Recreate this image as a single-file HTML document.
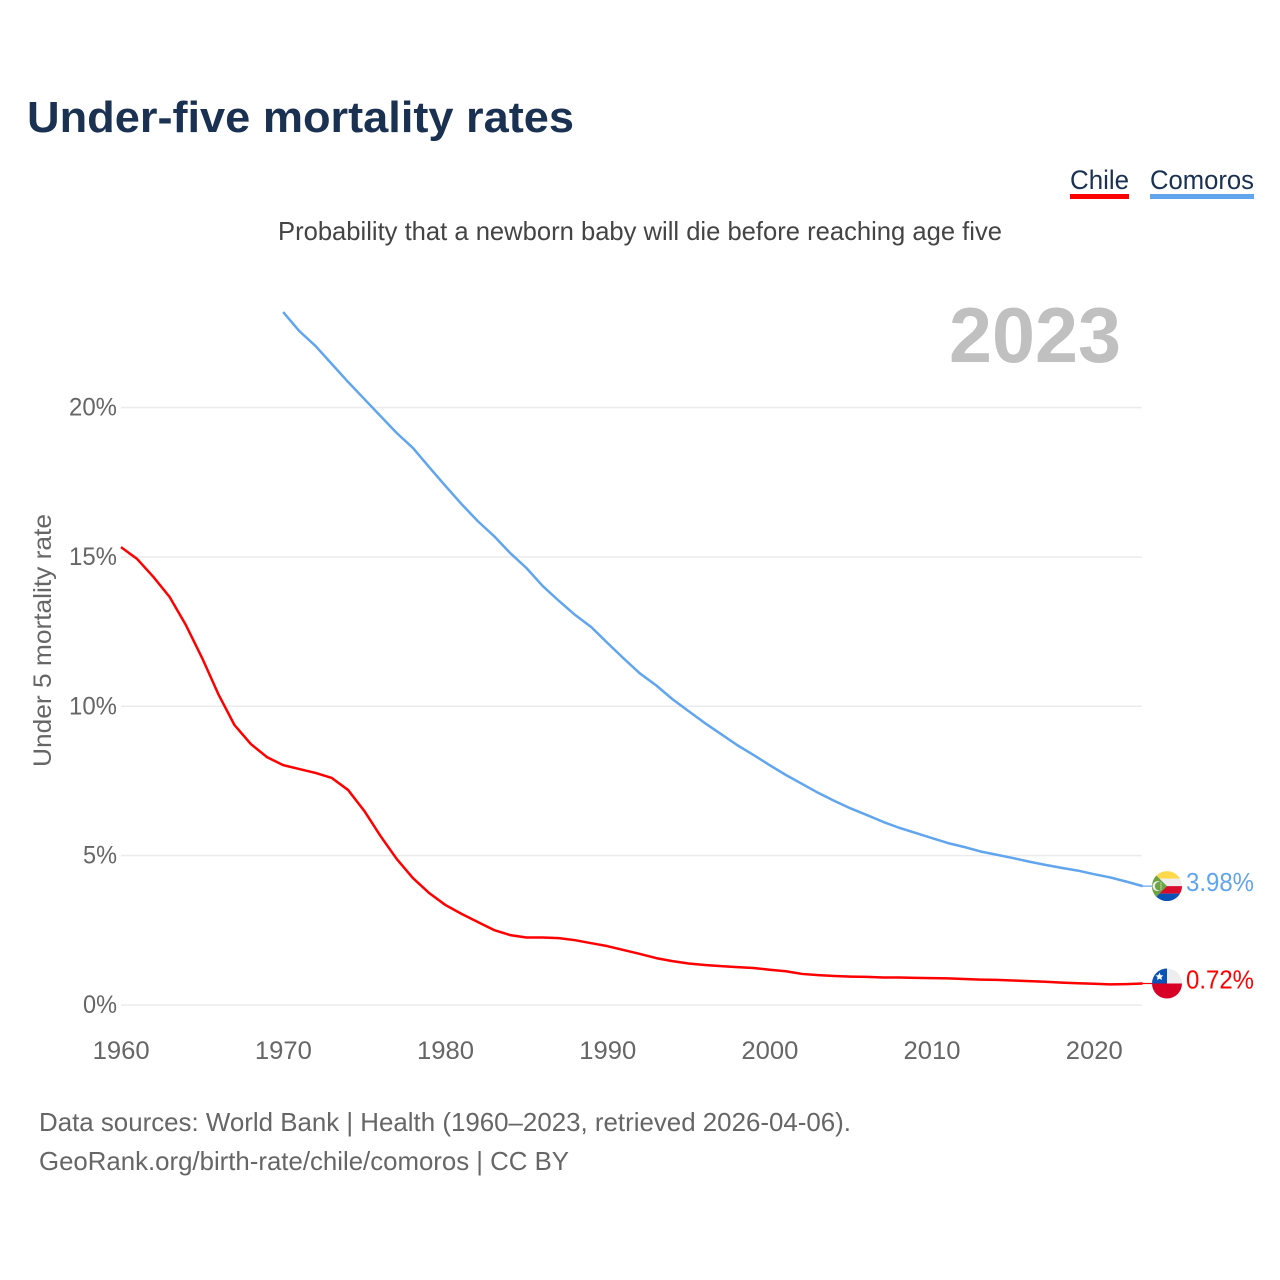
<!DOCTYPE html>
<html lang="en">
<head>
<meta charset="utf-8">
<title>Under-five mortality rates</title>
<style>
html,body{margin:0;padding:0;background:#fff;width:1280px;height:1280px;overflow:hidden}
svg{display:block}
text{font-family:"Liberation Sans",Arial,sans-serif}
</style>
</head>
<body>
<svg id="chart" xmlns="http://www.w3.org/2000/svg" width="1280" height="1280" viewBox="0 0 1280 1280">
  <rect x="0" y="0" width="1280" height="1280" fill="#fff"/>
  <text x="27" y="132" font-size="44" font-weight="700" fill="#1a3152" textLength="547" lengthAdjust="spacingAndGlyphs">Under-five mortality rates</text>
  <g>
    <g>
      <text x="1070" y="189" font-size="27" fill="#1a3152" textLength="59" lengthAdjust="spacingAndGlyphs">Chile</text>
      <rect x="1070" y="194" width="59" height="5" fill="#ff0000"/>
    </g>
    <g>
      <text x="1150" y="189" font-size="27" fill="#1a3152" textLength="104" lengthAdjust="spacingAndGlyphs">Comoros</text>
      <rect x="1150" y="194" width="104" height="5" fill="#60a5ee"/>
    </g>
  </g>
  <text x="278" y="240" font-size="26" fill="#444" textLength="724" lengthAdjust="spacingAndGlyphs">Probability that a newborn baby will die before reaching age five</text>
  <text x="949" y="362" font-size="78" font-weight="700" fill="#c0c0c0" textLength="172" lengthAdjust="spacingAndGlyphs">2023</text>
  <text transform="translate(51,767) rotate(-90)" x="0" y="0" font-size="25" fill="#666" textLength="253" lengthAdjust="spacingAndGlyphs">Under 5 mortality rate</text>
  <g id="grid"></g>
  <g id="yticks"></g>
  <g id="xticks"></g>
  <g id="series"></g>
  <defs>
    <clipPath id="flag-clip"><circle cx="0" cy="0" r="15"/></clipPath>
  </defs>
  <g id="flag-comoros" clip-path="url(#flag-clip)">
    <rect x="-15" y="-15" width="30" height="7.5" fill="#ffd94a"/>
    <rect x="-15" y="-7.5" width="30" height="7.5" fill="#eeeeee"/>
    <rect x="-15" y="0" width="30" height="7.5" fill="#d80d2e"/>
    <rect x="-15" y="7.5" width="30" height="7.5" fill="#0a52b5"/>
    <path d="M-15,-15 L0,0 L-15,15 Z" fill="#6da544"/>
    <circle cx="-9.5" cy="0" r="5" fill="#eee"/>
    <circle cx="-7.7" cy="0" r="4.4" fill="#6da544"/>
    <path d="M-6,-3.5 V3.5" stroke="#eee" stroke-width="1.2" stroke-dasharray="1 1"/>
  </g>
  <g id="flag-chile" clip-path="url(#flag-clip)">
    <rect x="-15" y="-15" width="30" height="15" fill="#eeeeee"/>
    <rect x="-15" y="-15" width="15" height="15" fill="#0a52b5"/>
    <rect x="-15" y="0" width="30" height="15" fill="#d80027"/>
    <path d="M-7.5,-11 L-6.3,-8.3 L-3.6,-8.1 L-5.6,-6.2 L-5,-3.5 L-7.5,-4.9 L-10,-3.5 L-9.4,-6.2 L-11.4,-8.1 L-8.7,-8.3 Z" fill="#fff"/>
  </g>
  <text x="39" y="1131" font-size="26" fill="#666" textLength="812" lengthAdjust="spacingAndGlyphs">Data sources: World Bank | Health (1960–2023, retrieved 2026-04-06).</text>
  <text x="39" y="1170" font-size="26" fill="#666" textLength="530" lengthAdjust="spacingAndGlyphs">GeoRank.org/birth-rate/chile/comoros | CC BY</text>
</svg>
<script>
const xTicks = [1960, 1970, 1980, 1990, 2000, 2010, 2020];
const yTicks = [0, 5, 10, 15, 20];
const yTickLabels = ['0%', '5%', '10%', '15%', '20%'];
const chileStartYear = 1960;
const chileValues = [15.33,14.93,14.33,13.66,12.72,11.62,10.41,9.37,8.74,8.30,8.03,7.90,7.77,7.60,7.20,6.50,5.66,4.89,4.25,3.75,3.35,3.05,2.78,2.51,2.34,2.26,2.26,2.24,2.17,2.07,1.97,1.84,1.71,1.57,1.47,1.39,1.34,1.30,1.27,1.24,1.18,1.13,1.04,1.00,0.97,0.95,0.94,0.92,0.92,0.91,0.90,0.89,0.87,0.85,0.84,0.82,0.80,0.78,0.75,0.73,0.71,0.69,0.70,0.72];
const comorosStartYear = 1970;
const comorosValues = [23.20,22.56,22.06,21.46,20.86,20.29,19.72,19.15,18.65,18.01,17.38,16.77,16.20,15.70,15.13,14.63,14.03,13.53,13.06,12.65,12.12,11.60,11.10,10.70,10.24,9.84,9.44,9.07,8.70,8.37,8.03,7.70,7.40,7.10,6.83,6.58,6.36,6.13,5.93,5.76,5.59,5.42,5.29,5.14,5.03,4.92,4.80,4.69,4.59,4.50,4.38,4.27,4.13,3.98];

const NS = 'http://www.w3.org/2000/svg';
const xScale = year => 121 + (year - 1960) * 16.217;
const yScale = pct => 1005 - pct * 29.87;
const lastX = xScale(2023);
const flagX = 1167;

function make(tag, attrs, parent, content) {
  const el = document.createElementNS(NS, tag);
  Object.keys(attrs).forEach(k => el.setAttribute(k, attrs[k]));
  if (content !== undefined) el.textContent = content;
  parent.appendChild(el);
  return el;
}

const gridG = document.getElementById('grid');
const yG = document.getElementById('yticks');
const xG = document.getElementById('xticks');
const seriesG = document.getElementById('series');
const svgRoot = document.getElementById('chart');

yTicks.forEach((t, i) => {
  const line = make('line', {x1: 121, x2: lastX - 0.8, y1: yScale(t), y2: yScale(t), stroke: '#ebebeb', 'stroke-width': 1.5}, gridG);
  
  
  const label = yTickLabels[i];
  const tick = make('text', {x: 117, y: yScale(t) + 8, 'font-size': 25, fill: '#666', 'text-anchor': 'end', textLength: label.length === 3 ? 48 : 34, lengthAdjust: 'spacingAndGlyphs'}, yG, label);
  
  
});

xTicks.forEach(t => {
  const tick = make('text', {x: xScale(t) + 0.2, y: 1059, 'font-size': 25, fill: '#666', 'text-anchor': 'middle', textLength: 57, lengthAdjust: 'spacingAndGlyphs'}, xG, String(t));
  
  
});

function pathFor(values, startYear) {
  return values.map((v, i) => (i ? 'L' : 'M') + xScale(startYear + i).toFixed(2) + ',' + yScale(v).toFixed(2)).join(' ');
}

const comorosLine = make('path', {d: pathFor(comorosValues, comorosStartYear), fill: 'none', stroke: '#60a5ee', 'stroke-width': 2.5, 'stroke-linejoin': 'round'}, seriesG);


const chileLine = make('path', {d: pathFor(chileValues, chileStartYear), fill: 'none', stroke: '#ff0000', 'stroke-width': 2.5, 'stroke-linejoin': 'round'}, seriesG);



const comorosLast = comorosValues[comorosValues.length - 1];
const chileLast = chileValues[chileValues.length - 1];

const comorosLink = make('line', {x1: lastX, x2: flagX - 14, y1: yScale(comorosLast), y2: yScale(comorosLast), stroke: '#60a5ee', 'stroke-width': 1.2}, seriesG);


const chileLink = make('line', {x1: lastX, x2: flagX - 14, y1: yScale(chileLast), y2: yScale(chileLast), stroke: '#ff0000', 'stroke-width': 1.2}, seriesG);



document.getElementById('flag-comoros').setAttribute('transform', 'translate(' + flagX + ',' + yScale(comorosLast) + ')');
document.getElementById('flag-chile').setAttribute('transform', 'translate(' + flagX + ',' + yScale(chileLast) + ')');

const comorosValue = make('text', {x: 1186, y: yScale(comorosLast) + 5, 'font-size': 26, fill: '#60a5ee', textLength: 68, lengthAdjust: 'spacingAndGlyphs'}, svgRoot, comorosLast.toFixed(2) + '%');


const chileValue = make('text', {x: 1186, y: yScale(chileLast) + 5, 'font-size': 26, fill: '#ff0000', textLength: 68, lengthAdjust: 'spacingAndGlyphs'}, svgRoot, chileLast.toFixed(2) + '%');


</script>
</body>
</html>
